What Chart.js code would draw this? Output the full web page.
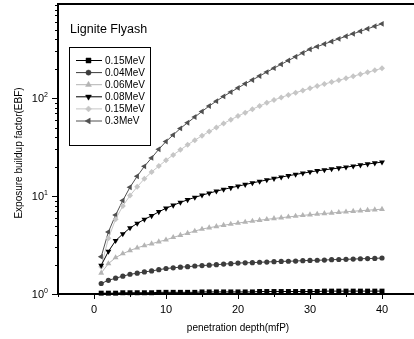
<!DOCTYPE html>
<html>
<head>
<meta charset="utf-8">
<title>Lignite Flyash EBF</title>
<script src="https://cdn.jsdelivr.net/npm/chart.js"></script>
<style>
  html, body { margin: 0; padding: 0; background: #fff; overflow: hidden; }
  canvas { display: block; }
</style>
</head>
<body>
<canvas id="grafico" width="422" height="339"></canvas>
<script>
// penetration depth (mfp)
const depth = [1, 2, 3, 4, 5, 6, 7, 8, 9, 10, 11, 12, 13, 14, 15, 16, 17, 18, 19, 20,
  21, 22, 23, 24, 25, 26, 27, 28, 29, 30, 31, 32, 33, 34, 35, 36, 37, 38, 39, 40];

// valores (EBF)
const ebf015a = [1.02, 1.02, 1.02, 1.03, 1.03, 1.03, 1.03, 1.03, 1.04, 1.04,
  1.04, 1.04, 1.04, 1.04, 1.05, 1.05, 1.05, 1.05, 1.05, 1.05,
  1.05, 1.05, 1.06, 1.06, 1.06, 1.06, 1.06, 1.06, 1.06, 1.06,
  1.06, 1.07, 1.07, 1.07, 1.07, 1.07, 1.07, 1.07, 1.07, 1.07];
const ebf004 = [1.28, 1.38, 1.45, 1.52, 1.59, 1.63, 1.68, 1.72, 1.77, 1.82,
  1.85, 1.88, 1.90, 1.93, 1.95, 1.97, 1.99, 2.02, 2.04, 2.07,
  2.08, 2.09, 2.11, 2.12, 2.14, 2.15, 2.16, 2.17, 2.19, 2.20,
  2.21, 2.22, 2.24, 2.25, 2.26, 2.27, 2.29, 2.30, 2.31, 2.33];
const ebf006 = [1.64, 2.04, 2.35, 2.58, 2.78, 2.96, 3.12, 3.26, 3.42, 3.57,
  3.78, 3.98, 4.17, 4.39, 4.60, 4.75, 4.89, 5.03, 5.17, 5.30,
  5.42, 5.54, 5.66, 5.78, 5.90, 6.01, 6.12, 6.23, 6.34, 6.45,
  6.54, 6.63, 6.72, 6.81, 6.90, 6.99, 7.08, 7.17, 7.25, 7.34];
const ebf008 = [1.96, 2.72, 3.50, 4.10, 4.72, 5.25, 5.78, 6.28, 6.90, 7.50,
  8.05, 8.60, 9.15, 9.68, 10.2, 10.7, 11.2, 11.7, 12.15, 12.6,
  13.1, 13.6, 14.1, 14.6, 15.1, 15.6, 16.1, 16.6, 17.1, 17.6,
  18.1, 18.5, 18.9, 19.3, 19.7, 20.2, 20.7, 21.2, 21.7, 22.2];
const ebf015b = [1.9, 3.7, 5.8, 7.9, 10.1, 12.4, 15.0, 17.6, 20.2, 23.2,
  26.3, 29.6, 33.3, 37.2, 41.2, 45.5, 50.2, 55.0, 60.2, 65.5,
  71.0, 77.0, 83.0, 89.3, 95.5, 101.5, 107.5, 113.5, 119.5, 126,
  132.5, 139, 145.5, 152, 159, 167, 175, 183, 192, 201];
const ebf03 = [2.4, 4.3, 6.4, 9.0, 12.3, 15.9, 20.1, 24.5, 30.0, 36.0,
  42.0, 49.0, 56.0, 64.0, 73.0, 83.0, 93.0, 104, 115, 127,
  140, 153, 168, 184, 202, 221, 241.5, 264, 288.5, 315,
  335, 356, 378, 402, 427, 453, 480, 509, 540, 572];

// etiquetas
const seriesLabels = ['0.15MeV', '0.04MeV', '0.06MeV', '0.08MeV', '0.15MeV', '0.3MeV'];
const xMajorTicks = [0, 10, 20, 30, 40];
const xMinorTicks = [-5, 5, 15, 25, 35];
const yMajorTicks = [1, 10, 100];
const yExponents = ['0', '1', '2'];
const yMinorTicks = [2, 3, 4, 5, 6, 7, 8, 9, 20, 30, 40, 50, 60, 70, 80, 90,
  200, 300, 400, 500, 600, 700, 800, 900];

const FONT = "'Liberation Sans', Arial, sans-serif";

function serie(valores) {
  return valores.map((v, i) => ({ x: depth[i], y: v }));
}

function dataset(i, valores, color, style, rot, radio) {
  return {
    label: seriesLabels[i],
    data: serie(valores),
    borderColor: color,
    backgroundColor: color,
    borderWidth: 1,
    pointStyle: style,
    rotation: rot,
    pointRadius: radio,
    pointBorderWidth: 0,
    pointBackgroundColor: color,
    pointBorderColor: color,
    clip: false,
    tension: 0
  };
}

// marcador simple para la leyenda
function marcador(ctx, ds, x, y) {
  if (Chart.helpers && Chart.helpers.drawPoint) {
    ctx.fillStyle = ds.backgroundColor;
    ctx.strokeStyle = ds.borderColor;
    ctx.lineWidth = 0.5;
    Chart.helpers.drawPoint(ctx, { pointStyle: ds.pointStyle, rotation: ds.rotation, radius: ds.pointRadius, borderWidth: 0.5 }, x, y);
  } else {
    ctx.fillStyle = ds.backgroundColor;
    ctx.beginPath();
    ctx.arc(x, y, ds.pointRadius, 0, Math.PI * 2);
    ctx.fill();
  }
}

// ejes, marcas, textos y leyenda
const marco = {
  id: 'marco',
  afterDatasetsDraw(chart) {
    const { ctx, chartArea: a, scales: { x, y } } = chart;
    ctx.save();
    ctx.strokeStyle = '#000';
    ctx.lineWidth = 2;
    ctx.beginPath();
    ctx.moveTo(a.right, a.top);
    ctx.lineTo(a.left, a.top);
    ctx.lineTo(a.left, a.bottom);
    ctx.lineTo(a.right, a.bottom);
    ctx.stroke();

    // marcas eje x
    ctx.lineWidth = 1;
    ctx.beginPath();
    xMajorTicks.forEach(v => {
      const px = Math.round(x.getPixelForValue(v)) + 0.5;
      ctx.moveTo(px, a.bottom); ctx.lineTo(px, a.bottom + 5);
    });
    xMinorTicks.forEach(v => {
      const px = Math.round(x.getPixelForValue(v)) + 0.5;
      ctx.moveTo(px, a.bottom); ctx.lineTo(px, a.bottom + 3);
    });
    // marcas eje y
    yMajorTicks.forEach(v => {
      const py = Math.round(y.getPixelForValue(v)) + 0.5;
      ctx.moveTo(a.left, py); ctx.lineTo(a.left - 6, py);
    });
    yMinorTicks.forEach(v => {
      const py = Math.round(y.getPixelForValue(v)) + 0.5;
      ctx.moveTo(a.left, py); ctx.lineTo(a.left - 3, py);
    });
    ctx.stroke();

    // etiquetas
    ctx.fillStyle = '#000';
    ctx.font = '11px ' + FONT;
    ctx.textAlign = 'center';
    ctx.textBaseline = 'alphabetic';
    xMajorTicks.forEach(v => {
      ctx.fillText(String(v), x.getPixelForValue(v), a.bottom + 19);
    });
    yMajorTicks.forEach((v, i) => {
      const py = y.getPixelForValue(v);
      ctx.font = '11px ' + FONT;
      ctx.textAlign = 'right';
      ctx.textBaseline = 'middle';
      ctx.fillText('10', a.left - 14, py + 0.5);
      ctx.font = '7px ' + FONT;
      ctx.textAlign = 'left';
      ctx.textBaseline = 'alphabetic';
      ctx.fillText(yExponents[i], a.left - 14, py - 1);
    });

    // titulos de ejes
    ctx.font = '10px ' + FONT;
    ctx.textAlign = 'center';
    ctx.textBaseline = 'alphabetic';
    ctx.fillText('penetration depth(mfP)', 238, 331);
    ctx.save();
    ctx.translate(22, 153);
    ctx.rotate(-Math.PI / 2);
    ctx.fillText('Exposure buildup factor(EBF)', 0, 0);
    ctx.restore();

    // leyenda
    ctx.font = '12.5px ' + FONT;
    ctx.textAlign = 'left';
    ctx.fillText('Lignite Flyash', 70, 32.5);
    ctx.lineWidth = 1;
    ctx.strokeStyle = '#000';
    ctx.strokeRect(69.5, 47.5, 81, 98);
    ctx.font = '10px ' + FONT;
    ctx.textBaseline = 'middle';
    chart.data.datasets.forEach((ds, i) => {
      const ly = 60.5 + i * 12.1;
      ctx.strokeStyle = ds.borderColor;
      ctx.lineWidth = 1;
      ctx.beginPath();
      ctx.moveTo(76, ly); ctx.lineTo(102, ly);
      ctx.stroke();
      marcador(ctx, ds, 88.5, ly);
      ctx.fillStyle = '#000';
      ctx.fillText(ds.label, 105, ly + 0.5);
    });
    ctx.restore();
  }
};

const ctx = document.getElementById('grafico').getContext('2d');
const chart = new Chart(ctx, {
  type: 'line',
  data: {
    datasets: [
      dataset(0, ebf015a, '#000000', 'rect', 0, 3.5),
      dataset(1, ebf004, '#3c3c3c', 'circle', 0, 2.6),
      dataset(2, ebf006, '#b4b4b4', 'triangle', 0, 3.4),
      dataset(3, ebf008, '#000000', 'triangle', 180, 3.4),
      dataset(4, ebf015b, '#c6c6c6', 'rectRot', 0, 3.0),
      dataset(5, ebf03, '#505050', 'triangle', 270, 3.4)
    ]
  },
  options: {
    responsive: false,
    animation: false,
    devicePixelRatio: 1,
    layout: { padding: { left: 58, top: 1, right: 1, bottom: 45 } },
    plugins: {
      legend: { display: false },
      tooltip: { enabled: false }
    },
    scales: {
      x: { type: 'linear', min: -5, max: 45, display: false },
      y: { type: 'logarithmic', min: 1, max: 912, display: false }
    }
  },
  plugins: [marco]
});
</script>
</body>
</html>
